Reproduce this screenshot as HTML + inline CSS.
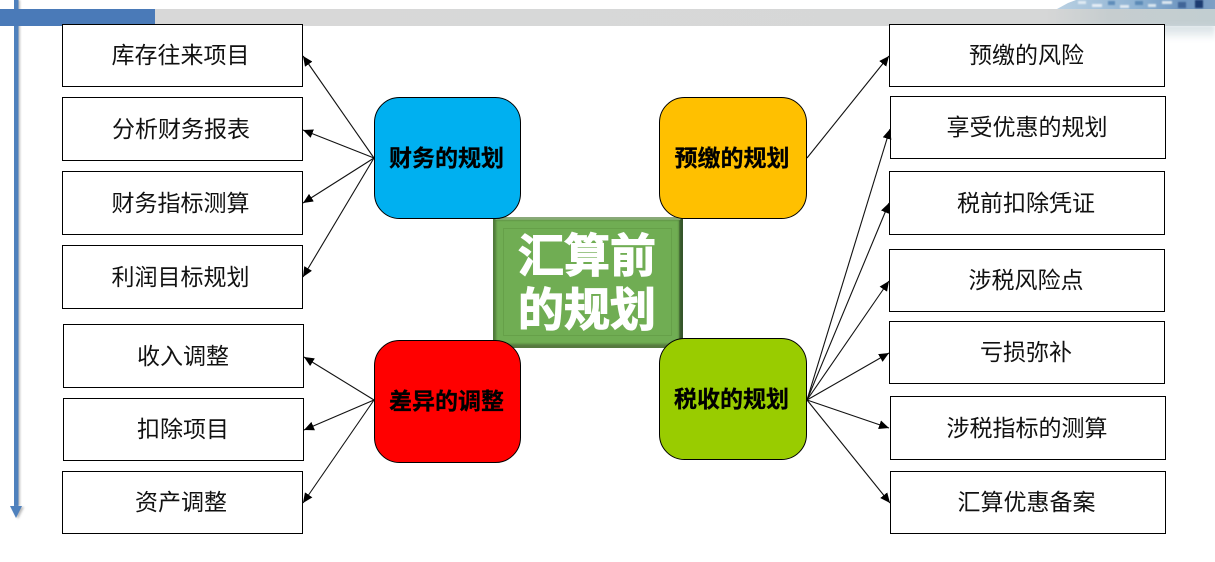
<!DOCTYPE html>
<html>
<head>
<meta charset="utf-8">
<style>
html,body{margin:0;padding:0;background:#fff;width:1215px;height:562px;overflow:hidden}
svg{display:block}
text{font-family:"Liberation Sans","Noto Sans CJK SC",sans-serif;text-anchor:middle}
.b{fill:#fff;stroke:#000;stroke-width:1}
.t{font-size:23px;fill:#111}
.n{stroke:#000;stroke-width:1}
.h{font-size:23px;font-weight:700;fill:#000;stroke:#000;stroke-width:.25}
.l{stroke:#111;stroke-width:1.1;fill:none;marker-end:url(#a)}
.c{font-size:46px;font-weight:700;fill:#fff;stroke:#fff;stroke-width:1.1}
</style>
</head>
<body>
<svg width="1215" height="562" viewBox="0 0 1215 562" xmlns="http://www.w3.org/2000/svg">
<defs>
<marker id="a" markerUnits="userSpaceOnUse" markerWidth="11" markerHeight="10" refX="10" refY="4.5" orient="auto">
<path d="M0 0L10 4.5L0 9Z" fill="#000"/>
</marker>
<linearGradient id="gb" x1="0" x2="1" y1="0" y2="0">
<stop offset="0" stop-color="#d8d8d8"/><stop offset="0.84" stop-color="#d6d7d7"/><stop offset="0.9" stop-color="#c6cdcf"/><stop offset="1" stop-color="#c2ced1"/>
</linearGradient>
<linearGradient id="fade" x1="0" x2="0" y1="0" y2="1">
<stop offset="0" stop-color="#c4d2d8"/><stop offset="1" stop-color="#ffffff"/>
</linearGradient>
<linearGradient id="sky" x1="0" x2="1" y1="0" y2="0">
<stop offset="0" stop-color="#b9d0e2"/><stop offset="0.5" stop-color="#8fb3d3"/><stop offset="0.8" stop-color="#6f96c0"/><stop offset="1" stop-color="#7fa0c5"/>
</linearGradient>
<filter id="bl" x="-10%" y="-50%" width="120%" height="200%"><feGaussianBlur stdDeviation="2"/></filter>
<filter id="sb" x="-50%" y="-10%" width="200%" height="120%"><feGaussianBlur stdDeviation="1"/></filter>
<filter id="m" x="-5%" y="-20%" width="110%" height="140%"><feGaussianBlur stdDeviation="0.7"/></filter>
<filter id="e" x="-5%" y="-5%" width="110%" height="110%"><feGaussianBlur stdDeviation="1"/></filter>
</defs>

<!-- top band -->
<rect x="155" y="9" width="1060" height="17" fill="url(#gb)"/>
<rect x="1060" y="25" width="155" height="16" fill="url(#fade)" opacity="0.75" filter="url(#bl)"/>
<path d="M1057 9L1068 3L1076 0H1215V9Z" fill="url(#sky)"/>
<g filter="url(#m)">
<rect x="1078" y="1" width="8" height="3" fill="#dfeaf3"/>
<rect x="1092" y="4" width="10" height="3" fill="#e4edf5"/>
<rect x="1108" y="1" width="7" height="4" fill="#5f8dba"/>
<rect x="1120" y="5" width="9" height="3" fill="#dfe9f2"/>
<rect x="1135" y="1" width="8" height="4" fill="#5c89b6"/>
<rect x="1148" y="4" width="8" height="3" fill="#d8e5ef"/>
<rect x="1162" y="1" width="10" height="3" fill="#dce7f0"/>
<rect x="1178" y="2" width="8" height="6" fill="#3f6597"/>
<rect x="1195" y="0" width="8" height="8" fill="#1d3a70"/>
</g>
<!-- vertical arrow -->
<rect x="16" y="0" width="4" height="506" fill="#bbb" filter="url(#sb)"/>
<rect x="14" y="0" width="4.5" height="506" fill="#4f81bd"/>
<path d="M12 507L24 507L18 519Z" fill="#bbb" filter="url(#sb)"/>
<path d="M10 506H22L16 518Z" fill="#4f81bd"/>
<rect x="0" y="9" width="155" height="17" fill="#4a7ab8"/>

<!-- left boxes -->
<rect class="b" x="62.5" y="24.5" width="240" height="62"/>
<rect class="b" x="62.5" y="97.5" width="240" height="63"/>
<rect class="b" x="62.5" y="171.5" width="240" height="63"/>
<rect class="b" x="62.5" y="245.5" width="240" height="63"/>
<rect class="b" x="63.5" y="324.5" width="240" height="63"/>
<rect class="b" x="63.5" y="398.5" width="240" height="62"/>
<rect class="b" x="62.5" y="471.5" width="240" height="62"/>
<text class="t" x="180.5" y="63">库存往来项目</text>
<text class="t" x="181" y="137">分析财务报表</text>
<text class="t" x="180.5" y="211">财务指标测算</text>
<text class="t" x="180.5" y="285">利润目标规划</text>
<text class="t" x="183" y="364">收入调整</text>
<text class="t" x="183" y="437">扣除项目</text>
<text class="t" x="181" y="510">资产调整</text>

<!-- right boxes -->
<rect class="b" x="889.5" y="24.5" width="275" height="62"/>
<rect class="b" x="890.5" y="96.5" width="275" height="62"/>
<rect class="b" x="889.5" y="171.5" width="275" height="63"/>
<rect class="b" x="889.5" y="249.5" width="275" height="62"/>
<rect class="b" x="889.5" y="321.5" width="275" height="62"/>
<rect class="b" x="890.5" y="396.5" width="275" height="63"/>
<rect class="b" x="890.5" y="471.5" width="275" height="62"/>
<text class="t" x="1026.5" y="63">预缴的风险</text>
<text class="t" x="1027" y="135">享受优惠的规划</text>
<text class="t" x="1026" y="211">税前扣除凭证</text>
<text class="t" x="1026" y="288">涉税风险点</text>
<text class="t" x="1026" y="360">亏损弥补</text>
<text class="t" x="1027" y="436">涉税指标的测算</text>
<text class="t" x="1026.5" y="510">汇算优惠备案</text>

<!-- connectors -->
<line class="l" x1="374" y1="158" x2="303" y2="56"/>
<line class="l" x1="374" y1="158" x2="303" y2="130"/>
<line class="l" x1="374" y1="158" x2="303" y2="203"/>
<line class="l" x1="374" y1="158" x2="303" y2="277"/>
<line class="l" x1="374" y1="400" x2="304" y2="357"/>
<line class="l" x1="374" y1="400" x2="304" y2="430"/>
<line class="l" x1="374" y1="400" x2="303" y2="503"/>
<line class="l" x1="807" y1="158" x2="889" y2="56"/>
<line class="l" x1="807" y1="400" x2="890" y2="129"/>
<line class="l" x1="807" y1="400" x2="889" y2="203"/>
<line class="l" x1="807" y1="400" x2="889" y2="281"/>
<line class="l" x1="807" y1="400" x2="889" y2="353"/>
<line class="l" x1="807" y1="400" x2="889" y2="428"/>
<line class="l" x1="807" y1="400" x2="890" y2="503"/>

<!-- center -->
<rect x="493" y="217" width="190" height="131" fill="#4f7a3a"/>
<path d="M493 217H683L680 220H496Z" fill="#8aa97a"/>
<path d="M683 217V348L679 344V221Z" fill="#35552a" />
<path d="M493 348H683L679 344H497Z" fill="#55793f"/>
<rect x="496" y="220" width="183" height="124" fill="#70ad52" filter="url(#e)"/>
<rect x="503.5" y="228.5" width="168" height="107" fill="none" stroke="#66a049"/>
<text class="c" x="587" y="272">汇算前</text>
<text class="c" x="587" y="326">的规划</text>

<!-- nodes -->
<rect class="n" x="374.5" y="97.5" width="146" height="121" rx="25" fill="#00b0f0"/>
<rect class="n" x="659.5" y="97.5" width="147" height="121" rx="25" fill="#ffc000"/>
<rect class="n" x="374.5" y="340.5" width="146" height="122" rx="25" fill="#ff0000"/>
<rect class="n" x="659.5" y="338.5" width="147" height="121" rx="25" fill="#99cc00"/>
<text class="h" x="446.5" y="166">财务的规划</text>
<text class="h" x="732" y="166">预缴的规划</text>
<text class="h" x="446.5" y="409">差异的调整</text>
<text class="h" x="731.5" y="407">税收的规划</text>
</svg>
</body>
</html>
